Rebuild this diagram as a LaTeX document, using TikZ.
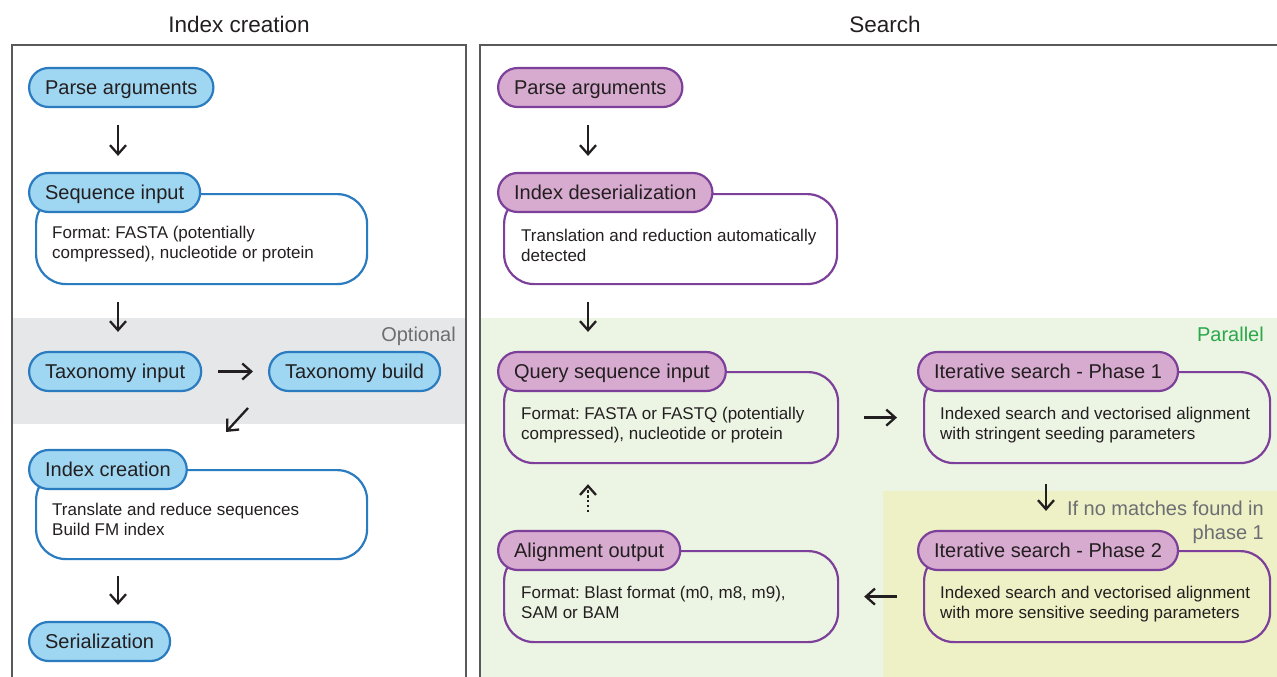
\documentclass[tikz,border=0pt]{standalone}
\usepackage{fontspec}
\setmainfont{Liberation Sans}
\usetikzlibrary{arrows.meta}
\frenchspacing
\definecolor{blueF}{HTML}{9FD6F1}
\definecolor{blueB}{HTML}{2A7BC0}
\definecolor{purF}{HTML}{D7AACF}
\definecolor{purB}{HTML}{7D409A}
\definecolor{grayBand}{HTML}{E6E7E8}
\definecolor{greenBand}{HTML}{ECF4E4}
\definecolor{yellowBand}{HTML}{EEF0C6}
\definecolor{frameC}{HTML}{58595B}
\definecolor{noteC}{HTML}{6D6E71}
\definecolor{parC}{HTML}{2BA84A}
\definecolor{txt}{HTML}{231F20}
\newcommand\bstrut{\rule{0pt}{13.5pt}}
\newcommand\nstrut{\rule{0pt}{16pt}}
\tikzset{
  pill/.style={line width=2.2pt, rounded corners=19.5pt, minimum height=39pt,
    inner xsep=16pt, inner ysep=0pt, text height=14.5pt, text depth=0pt,
    font=\fontsize{20}{24}\selectfont, text=txt, anchor=west},
  pillB/.style={pill, draw=blueB, fill=blueF},
  pillP/.style={pill, draw=purB, fill=purF},
  bodybox/.style={line width=2.2pt, rounded corners=30pt, anchor=north west, inner sep=0pt},
  bodyB/.style={bodybox, draw=blueB},
  bodyP/.style={bodybox, draw=purB},
  btext/.style={anchor=north west, inner sep=0pt, align=left, text=txt,
    font=\fontsize{17}{20}\selectfont},
  header/.style={anchor=base, inner sep=0pt, text=txt, font=\fontsize{22.5}{27}\selectfont},
  note/.style={inner sep=0pt, font=\fontsize{20}{24}\selectfont},
  frame/.style={draw=frameC, line width=2.2pt},
  arr/.style={line width=2.3pt, draw=txt, -{Straight Barb[length=9pt,width=16pt]}},
  darr/.style={arr, dash pattern=on 2.3pt off 2.5pt},
}
\begin{document}
\begin{tikzpicture}[x=1pt,y=-1pt]
\useasboundingbox (0,0) rectangle (1277,677);
% bands
\fill[grayBand] (13,318) rectangle (465,424);
\fill[greenBand] (481,318) rectangle (1277,677);
\fill[yellowBand] (883,491) rectangle (1277,677);
% frames
\draw[frame] (12,677) -- (12,45) -- (466,45) -- (466,677);
\draw[frame] (480,677) -- (480,45) -- (1277,45);
% headers
\node[header] (h1) at (239,33) {Index creation};
\node[header] (h2) at (885,33) {Search};
% band labels
\node[note, text=noteC, anchor=base east] (opt) at (456,341) {Optional};
\node[note, text=parC, anchor=base east] (par) at (1264,341) {Parallel};
\node[note, text=noteC, anchor=north east, align=right] (nomatch) at (1264,499)
  {\nstrut If no matches found in\\phase 1};

% ---------- Index creation ----------
\node[pillB] (pa1) at (28,87.5) {Parse arguments};

\node[bodyB, minimum width=331pt, minimum height=90pt] (sib) at (35,193) {};
\node[btext] (sit) at (52,224.8) {\bstrut Format: FASTA (potentially\\compressed), nucleotide or protein};
\node[pillB] (si) at (28,192.5) {Sequence input};

\node[pillB] (ti) at (28,371.5) {Taxonomy input};
\node[pillB] (tb) at (268,371.5) {Taxonomy build};

\node[bodyB, minimum width=331pt, minimum height=89pt] (icb) at (35,469) {};
\node[btext] (ict) at (52,501.5) {\bstrut Translate and reduce sequences\\Build FM index};
\node[pillB] (ic) at (28,469.5) {Index creation};

\node[pillB] (se) at (28,641.5) {Serialization};

\coordinate (xL) at (118,0);
\coordinate (d1) at (248,408);
\coordinate (d2) at (226,432);
\draw[arr, shorten <=16.5pt, shorten >=16pt] (pa1.south -| xL) -- (si.north -| xL);
\draw[arr, shorten <=17pt, shorten >=19pt] (sib.south -| xL) -- (ti.north -| xL);
\draw[arr, shorten <=16pt, shorten >=15pt] (ti.east) -- (tb.west);
\draw[arr] (d1) -- (d2);
\draw[arr, shorten <=16pt, shorten >=16pt] (icb.south -| xL) -- (se.north -| xL);

% ---------- Search ----------
\node[pillP] (pa2) at (497,87.5) {Parse arguments};

\node[bodyP, minimum width=333pt, minimum height=90pt] (idb) at (503,193) {};
\node[btext] (idt) at (521,227.5) {\bstrut Translation and reduction automatically\\detected};
\node[pillP] (id) at (497,192.5) {Index deserialization};

\node[bodyP, minimum width=334pt, minimum height=91pt] (qsb) at (503,371) {};
\node[btext] (qst) at (521,405.5) {\bstrut Format: FASTA or FASTQ (potentially\\compressed), nucleotide or protein};
\node[pillP] (qs) at (497,371.5) {Query sequence input};

\node[bodyP, minimum width=346pt, minimum height=91pt] (p1b) at (923,371) {};
\node[btext] (p1t) at (940,405.5) {\bstrut Indexed search and vectorised alignment\\with stringent seeding parameters};
\node[pillP] (p1) at (917,371.5) {Iterative search - Phase 1};

\node[bodyP, minimum width=346pt, minimum height=91pt] (p2b) at (923,550) {};
\node[btext] (p2t) at (940,584.5) {\bstrut Indexed search and vectorised alignment\\with more sensitive seeding parameters};
\node[pillP] (p2) at (917,550.5) {Iterative search - Phase 2};

\node[bodyP, minimum width=334pt, minimum height=91pt] (aob) at (503,550) {};
\node[btext] (aot) at (521,584.5) {\bstrut Format: Blast format (m0, m8, m9),\\SAM or BAM};
\node[pillP] (ao) at (497,550.5) {Alignment output};

\coordinate (xR) at (588,0);
\coordinate (xP) at (1046,0);
\draw[arr, shorten <=16.5pt, shorten >=16pt] (pa2.south -| xR) -- (id.north -| xR);
\draw[arr, shorten <=17pt, shorten >=19pt] (idb.south -| xR) -- (qs.north -| xR);
\draw[arr, shorten <=25pt, shorten >=26pt] (qsb.east) -- (p1b.west);
\draw[arr, shorten <=20pt, shorten >=19pt] (p1b.south -| xP) -- (p2.north -| xP);
\draw[arr, shorten <=26pt, shorten >=25pt] (p2b.west) -- (aob.east);
\draw[darr, shorten <=18pt, shorten >=20pt] (ao.north -| xR) -- (qsb.south -| xR);
\end{tikzpicture}
\end{document}
